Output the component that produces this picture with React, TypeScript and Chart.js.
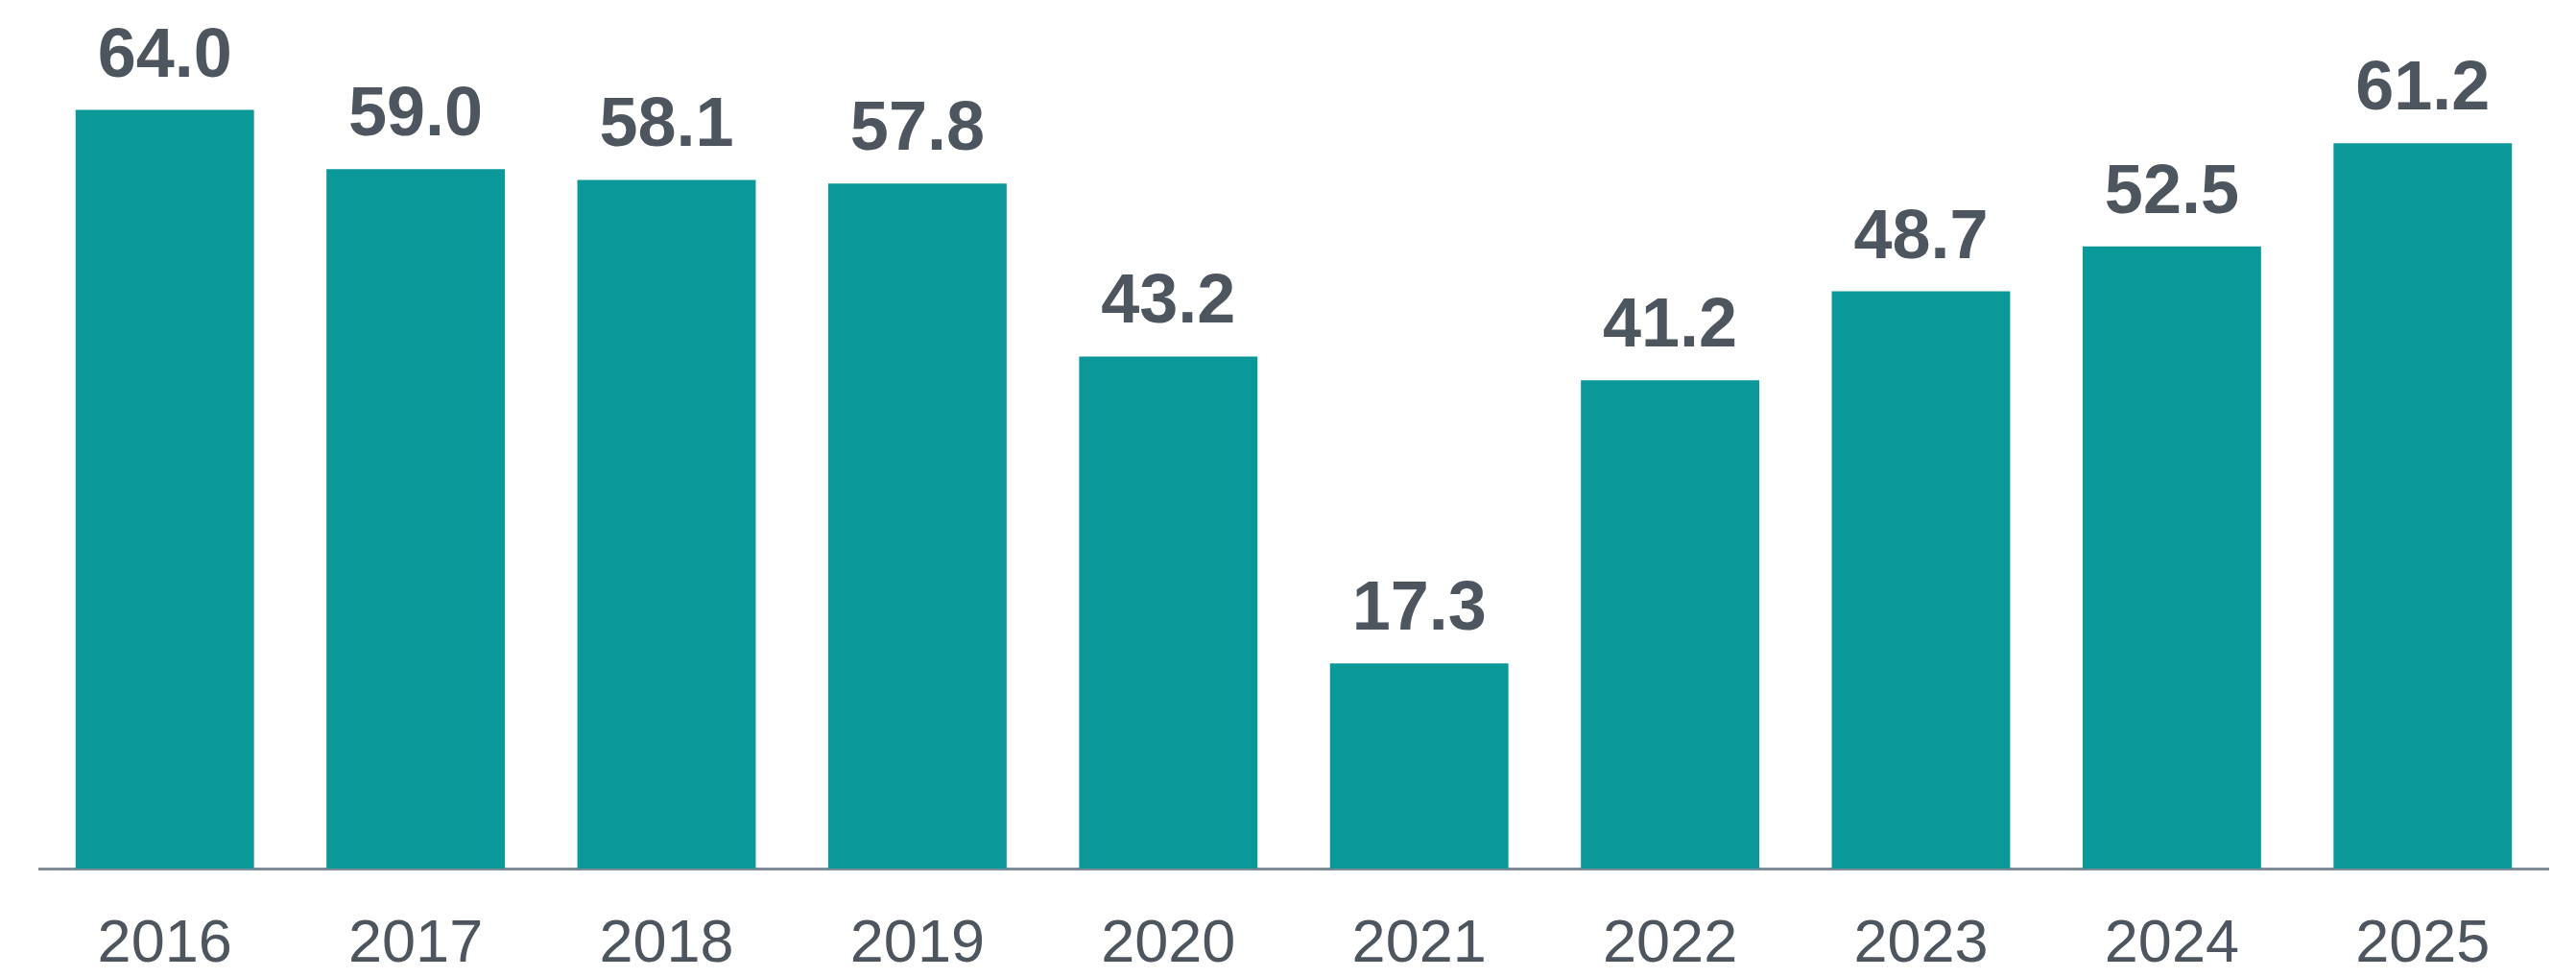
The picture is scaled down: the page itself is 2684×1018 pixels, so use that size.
import React, { useEffect, useRef } from "react";
import { Chart, registerables } from "chart.js";

Chart.register(...registerables);

const categories = ["2016", "2017", "2018", "2019", "2020", "2021", "2022", "2023", "2024", "2025"];
const values = [64.0, 59.0, 58.1, 57.8, 43.2, 17.3, 41.2, 48.7, 52.5, 61.2];

const BAR_COLOR = "#0A9899";
const TEXT_COLOR = "#4D555E";
const AXIS_COLOR = "#7F8B96";
const FONT = "'Liberation Sans', Arial, sans-serif";

const valueLabels = {
  id: "valueLabels",
  afterDatasetsDraw(chart: any) {
    const ctx = chart.ctx;
    const meta = chart.getDatasetMeta(0);
    ctx.save();
    ctx.fillStyle = TEXT_COLOR;
    ctx.font = `bold 72px ${FONT}`;
    ctx.textAlign = "center";
    ctx.textBaseline = "alphabetic";
    meta.data.forEach((bar: any, i: number) => {
      ctx.fillText(values[i].toFixed(1), bar.x, bar.y - 35);
    });
    ctx.restore();
  },
};

export default function App() {
  const ref = useRef<HTMLCanvasElement>(null);
  useEffect(() => {
    if (!ref.current) return;
    const chart = new Chart(ref.current, {
      type: "bar",
      data: {
        labels: categories,
        datasets: [
          {
            data: values,
            backgroundColor: BAR_COLOR,
            borderWidth: 0,
            barPercentage: 0.711,
            categoryPercentage: 1,
          },
        ],
      },
      options: {
        animation: false,
        responsive: false,
        layout: { padding: { left: 41, right: 29, top: 40.5, bottom: 0 } },
        plugins: { legend: { display: false }, tooltip: { enabled: false } },
        scales: {
          x: {
            afterFit: (scale: any) => {
              scale.height = 113;
            },
            grid: { display: false, drawTicks: false },
            border: { display: true, color: AXIS_COLOR, width: 3 },
            ticks: {
              color: TEXT_COLOR,
              font: { family: FONT, size: 63, lineHeight: 1 },
              padding: 48,
              maxRotation: 0,
            },
          },
          y: {
            display: false,
            min: 0,
            max: 70,
          },
        },
      },
      plugins: [valueLabels],
    });
    return () => chart.destroy();
  }, []);
  return (
    <canvas
      ref={ref}
      width={2684}
      height={1018}
      style={{ position: "fixed", left: 0, top: 0, width: 2684, height: 1018 }}
    />
  );
}
